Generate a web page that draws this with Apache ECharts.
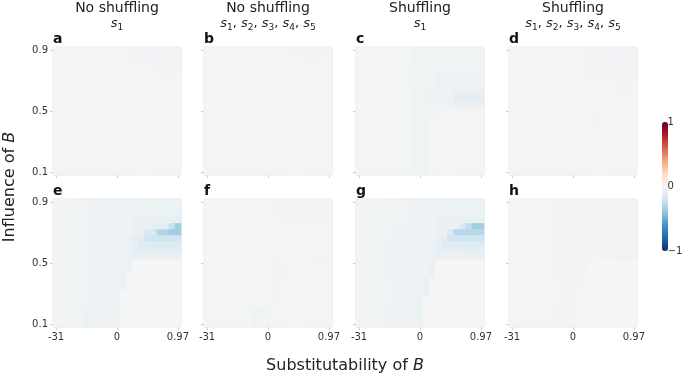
<!DOCTYPE html>
<html>
<head>
<meta http-equiv="Content-Type" content="text/html; charset=utf-8" />
<title>Influence vs substitutability of B</title>
<script src="https://cdn.jsdelivr.net/npm/echarts@6/dist/echarts.min.js"></script>
</head>
<body style="margin:0;padding:0;background:#ffffff;">
<div id="main" style="width:685px;height:375px;"></div>
<script type="text/javascript">
// tick labels (category index -> text)
var xTickPos = [0, 10, 20];
var xTickText = ['-31', '0', '0.97'];
var yTickPos = [0, 10, 20];
var yTickText = ['0.1', '0.5', '0.9'];
var colTitles = ['No shuffling', 'No shuffling', 'Shuffling', 'Shuffling'];
var panelLetters = ['a', 'b', 'c', 'd', 'e', 'f', 'g', 'h'];

// cell values in hundredths, rows top (0.9) -> bottom (0.1), columns left (-31) -> right (0.97)
var panelA = [
  [-1,-1,-1,-1,-1,-1,-1,-1,-1,-1,-1,-1,-2,-2,-2,-2,-2,-2,-2,-2,-2],
  [-1,-1,-1,-1,-1,-1,-1,-1,-1,-1,-1,-1,-2,-2,-2,-2,-2,-2,-2,-2,-2],
  [-1,-1,-1,-1,-1,-1,-1,-1,-1,-1,-1,-1,-2,-2,-2,-2,-2,-2,-2,-2,-2],
  [-1,-1,-1,-1,-1,-1,-1,-1,-1,-1,-1,-1,-1,-1,-1,-1,-2,-2,-2,-2,-2],
  [-1,-1,-1,-1,-1,-1,-1,-1,-1,-1,-1,-1,-1,-1,-1,-1,-1,-1,-2,-2,-1],
  [-1,-1,-1,-1,-1,-1,-1,-1,-1,-1,-1,-1,-1,-1,-1,-1,-1,-1,-2,-2,-1],
  [-1,-1,-1,-1,-1,-1,-1,-1,-1,-1,-1,-1,-1,-1,-1,-1,-1,-1,-1,-1,-1],
  [-1,-1,-1,-1,-1,-1,-1,-1,-1,-1,-1,-1,-1,-1,-1,-1,-1,-1,-1,-1,-1],
  [-1,-1,-1,-1,-1,-1,-1,-1,-1,-1,-1,-1,-1,-1,-1,-1,-1,-1,-1,-1,-1],
  [-1,-1,-1,-1,-1,-1,-1,-1,-1,-1,-1,-1,-1,-1,-1,-1,-1,-1,-1,-1,-1],
  [-1,-1,-1,-1,-1,-1,-1,-1,-1,-1,-1,-1,-1,-1,-1,-1,-1,-1,-1,-1,-1],
  [-1,-1,-1,-1,-1,-1,-1,-1,-1,-1,-1,-1,-1,-1,-1,-1,-1,-1,-1,-1,-1],
  [-1,-1,-1,-1,-1,-1,-1,-1,-1,-1,-1,-1,-1,-1,-1,-1,-1,-1,-1,-1,-1],
  [-1,-1,-1,-1,-1,-1,-1,-1,-1,-1,-1,-1,-1,-1,-1,-1,-1,-1,-1,-1,-1],
  [-1,-1,-1,-1,-1,-1,-1,-1,-1,-1,-1,-1,-1,-1,-1,-1,-1,-1,-1,-1,-1],
  [-1,-1,-1,-1,-1,-1,-1,-1,-1,-1,-1,-1,-1,-1,-1,-1,-1,-1,-1,-1,-1],
  [-1,-1,-1,-1,-1,-1,-1,-1,-1,-1,-1,-1,-1,-1,-1,-1,-1,-1,-1,-1,-1],
  [-1,-1,-1,-1,-1,-1,-1,-1,-1,-1,-1,-1,-1,-1,-1,-1,-1,-1,-1,-1,-1],
  [-1,-1,-1,-1,-1,-1,-1,-1,-1,-1,-1,-1,-1,-1,-1,-1,-1,-1,-1,-1,-1],
  [-1,-1,-1,-1,-1,-1,-1,-1,-1,-1,-1,-1,-1,-1,-1,-1,-1,-1,-1,-1,-1],
  [-1,-1,-1,-1,-1,-1,-1,-1,-1,-1,-1,-1,-1,-1,-1,-1,-1,-1,-1,-1,-1]
];
var panelB = [
  [-1,-1,-1,-1,-1,-1,-1,-1,-1,-1,-1,-1,-1,-1,-2,-2,-2,-2,-2,-2,-1],
  [-1,-1,-1,-1,-1,-1,-1,-1,-1,-1,-1,-1,-1,-1,-2,-2,-2,-2,-2,-2,-1],
  [-1,-1,-1,-1,-1,-1,-1,-1,-1,-1,-1,-1,-1,-1,-1,-1,-1,-1,-1,-1,-1],
  [-1,-1,-1,-1,-1,-1,-1,-1,-1,-1,-1,-1,-1,-1,-1,-1,-1,-1,-1,-1,-1],
  [-1,-1,-1,-1,-1,-1,-1,-1,-1,-1,-1,-1,-1,-1,-1,-1,-1,-1,-1,-1,-1],
  [-1,-1,-1,-1,-1,-1,-1,-1,-1,-1,-1,-1,-1,-1,-1,-1,-1,-1,-1,-1,-1],
  [-1,-1,-1,-1,-1,-1,-1,-1,-1,-1,-1,-1,-1,-1,-1,-1,-1,-1,-1,-1,-1],
  [-1,-1,-1,-1,-1,-1,-1,-1,-1,-1,-1,-1,-1,-1,-1,-1,-1,-1,-1,-1,-1],
  [-1,-1,-1,-1,-1,-1,-1,-1,-1,-1,-1,-1,-1,-1,-1,-1,-1,-1,-1,-1,-1],
  [-1,-1,-1,-1,-1,-1,-1,-1,-1,-1,-1,-1,-1,-1,-1,-1,-1,-1,-1,-1,-1],
  [-1,-1,-1,-1,-1,-1,-1,-1,-1,-1,-1,-1,-1,-1,-1,-1,-1,-1,-1,-1,-1],
  [-1,-1,-1,-1,-1,-1,-1,-1,-1,-1,-1,-1,-1,-1,-1,-1,-1,-1,-1,-1,-1],
  [-1,-1,-1,-1,-1,-1,-1,-1,-1,-1,-1,-1,-1,-1,-1,-1,-1,-1,-1,-1,-1],
  [-1,-1,-1,-1,-1,-1,-1,-1,-1,-1,-1,-1,-1,-1,-1,-1,-1,-1,-1,-1,-1],
  [-1,-1,-1,-1,-1,-1,-1,-1,-1,-1,-1,-1,-1,-1,-1,-1,-1,-1,-1,-1,-1],
  [-1,-1,-1,-1,-1,-1,-1,-1,-1,-1,-1,-1,-1,-1,-1,-1,-1,-1,-1,-1,-1],
  [-1,-1,-1,-1,-1,-1,-1,-1,-1,-1,-1,-1,-1,-1,-1,-1,-1,-1,-1,-1,-1],
  [-1,-1,-1,-1,-1,-1,-1,-1,-1,-1,-1,-1,-1,-1,-1,-1,-1,-1,-1,-1,-1],
  [-1,-1,-1,-1,-1,-1,-1,-1,-1,-1,-1,-1,-1,-1,-1,-1,-1,-1,-1,-1,-1],
  [-1,-1,-1,-1,-1,-1,-1,-1,-1,-1,-1,-1,-1,-1,-1,-1,-1,-1,-1,-1,-1],
  [-1,-1,-1,-1,-1,-1,-1,-1,-1,-1,-1,-1,-1,-1,-1,-1,-1,-1,-1,-1,-1]
];
var panelC = [
  [-1,-1,-1,-1,-1,-1,-1,-1,-1,-3,-3,-3,-3,-3,-3,-3,-3,-3,-3,-3,-3],
  [-1,-1,-1,-1,-1,-1,-1,-1,-1,-3,-3,-3,-3,-3,-3,-3,-3,-3,-3,-3,-3],
  [-1,-1,-1,-1,-1,-1,-1,-1,-1,-3,-3,-3,-3,-3,-3,-3,-3,-3,-3,-3,-3],
  [-1,-1,-1,-1,-1,-1,-1,-1,-1,-3,-3,-3,-3,-3,-3,-3,-3,-3,-3,-3,-3],
  [-1,-1,-1,-1,-1,-1,-1,-1,-1,-3,-3,-3,-3,-5,-4,-4,-4,-4,-4,-4,-4],
  [-1,-1,-1,-1,-1,-1,-1,-1,-1,-3,-3,-3,-3,-5,-4,-4,-4,-4,-4,-4,-4],
  [-1,-1,-1,-1,-1,-1,-1,-1,-1,-3,-3,-3,-3,-5,-4,-4,-4,-4,-4,-4,-4],
  [-1,-1,-1,-1,-1,-1,-1,-1,-1,-3,-3,-3,-5,-5,-5,-5,-7,-7,-7,-7,-7],
  [-1,-1,-1,-1,-1,-1,-1,-1,-1,-3,-3,-3,-5,-5,-5,-5,-10,-10,-10,-10,-10],
  [-1,-1,-1,-1,-1,-1,-1,-1,-1,-3,-3,-3,-4,-4,-4,-4,-6,-6,-6,-6,-6],
  [-1,-1,-1,-1,-1,-1,-1,-1,-1,-3,-3,-3,-3,-3,-3,-2,-2,-2,-2,-2,-2],
  [-1,-1,-1,-1,-1,-1,-1,-1,-1,-3,-3,-3,-1,-1,-1,-1,-1,-1,-1,-1,-1],
  [-1,-1,-1,-1,-1,-1,-1,-1,-1,-3,-3,-3,-1,-1,-1,-1,-1,-1,-1,-1,-1],
  [-1,-1,-1,-1,-1,-1,-1,-1,-1,-3,-3,-3,-1,-1,-1,-1,-1,-1,-1,-1,-1],
  [-1,-1,-1,-1,-1,-1,-1,-1,-1,-3,-3,-3,-1,-1,-1,-1,-1,-1,-1,-1,-1],
  [-1,-1,-1,-1,-1,-1,-1,-1,-1,-3,-3,-3,-1,-1,-1,-1,-1,-1,-1,-1,-1],
  [-1,-1,-1,-1,-1,-1,-1,-1,-1,-3,-3,-3,-1,-1,-1,-1,-1,-1,-1,-1,-1],
  [-1,-1,-1,-1,-1,-1,-1,-1,-1,-3,-3,-3,-1,-1,-1,-1,-1,-1,-1,-1,-1],
  [-1,-1,-1,-1,-1,-1,-1,-1,-1,-3,-3,-3,-1,-1,-1,-1,-1,-1,-1,-1,-1],
  [-1,-1,-1,-1,-1,-1,-1,-1,-1,-3,-3,-3,-1,-1,-1,-1,-1,-1,-1,-1,-1],
  [-1,-1,-1,-1,-1,-1,-1,-1,-1,-3,-3,-3,-1,-1,-1,-1,-1,-1,-1,-1,-1]
];
var panelD = [
  [-1,-1,-1,-1,-1,-1,-1,-1,-1,-1,-1,-1,-2,-2,-2,-2,-2,-2,-2,-2,-2],
  [-1,-1,-1,-1,-1,-1,-1,-1,-1,-1,-1,-1,-2,-2,-2,-2,-2,-2,-2,-2,-2],
  [-1,-1,-1,-1,-1,-1,-1,-1,-1,-1,-1,-1,-2,-2,-2,-2,-2,-2,-2,-2,-2],
  [-1,-1,-1,-1,-1,-1,-1,-1,-1,-1,-1,-1,-2,-2,-2,-2,-2,-2,-2,-2,-2],
  [-1,-1,-1,-1,-1,-1,-1,-1,-1,-1,-1,-1,-2,-2,-2,-2,-2,-2,-2,-2,-2],
  [-1,-1,-1,-1,-1,-1,-1,-1,-1,-1,-1,-1,-1,-1,-1,-1,-1,-1,-1,-1,-1],
  [-1,-1,-1,-1,-1,-1,-1,-1,-1,-1,-1,-1,-1,-1,-1,-1,-1,-1,-2,-2,-1],
  [-1,-1,-1,-1,-1,-1,-1,-1,-1,-1,-1,-1,-1,-1,-1,-1,-1,-1,-2,-2,-1],
  [-1,-1,-1,-1,-1,-1,-1,-1,-1,-1,-1,-1,-1,-1,-1,-1,-1,-1,-1,-1,-1],
  [-1,-1,-1,-1,-1,-1,-1,-1,-1,-1,-1,-1,-1,-1,-1,-1,-1,-1,-1,-1,-1],
  [-1,-1,-1,-1,-1,-1,-1,-1,-1,-1,-1,-1,-1,-1,-2,-1,-1,-1,-1,-1,-1],
  [-1,-1,-1,-1,-1,-1,-1,-1,-1,-1,-1,-1,-1,-1,-2,-1,-1,-1,-1,-1,-1],
  [-1,-1,-1,-1,-1,-1,-1,-1,-1,-1,-1,-1,-1,-1,-2,-1,-1,-1,-1,-1,-1],
  [-1,-1,-1,-1,-1,-1,-1,-1,-1,-1,-1,-1,-1,-1,-1,-1,-1,-1,-1,-1,-1],
  [-1,-1,-1,-1,-1,-1,-1,-1,-1,-1,-1,-1,-1,-1,-1,-1,-1,-1,-1,-1,-1],
  [-1,-1,-1,-1,-1,-1,-1,-1,-1,-1,-1,-1,-1,-1,-1,-1,-1,-1,-1,-1,-1],
  [-1,-1,-1,-1,-1,-1,-1,-1,-1,-1,-1,-1,-1,-1,-1,-1,-1,-1,-1,-1,-1],
  [-1,-1,-1,-1,-1,-1,-1,-1,-1,-1,-1,-1,-1,-1,-1,-1,-1,-1,-1,-1,-1],
  [-1,-1,-1,-1,-1,-1,-1,-1,-1,-1,-1,-1,-1,-1,-1,-1,-1,-1,-1,-1,-1],
  [-1,-1,-1,-1,-1,-1,-1,-1,-1,-1,-1,-1,-1,-1,-1,-1,-1,-1,-1,-1,-1],
  [-1,-1,-1,-1,-1,-1,-1,-1,-1,-1,-1,-1,-1,-1,-1,-1,-1,-1,-1,-1,-1]
];
var panelE = [
  [-2,-2,-2,-3,-3,-4,-4,-4,-4,-4,-4,-4,-4,-5,-5,-5,-5,-5,-5,-5,-5],
  [-2,-2,-2,-3,-3,-4,-4,-4,-4,-4,-4,-4,-4,-5,-5,-5,-5,-5,-5,-5,-5],
  [-2,-2,-2,-3,-3,-4,-4,-4,-4,-4,-4,-4,-4,-6,-6,-6,-6,-6,-6,-6,-6],
  [-2,-2,-2,-3,-3,-4,-4,-4,-4,-4,-4,-4,-4,-6,-6,-6,-7,-7,-7,-7,-7],
  [-2,-2,-2,-3,-3,-4,-4,-4,-4,-4,-4,-4,-4,-6,-6,-6,-9,-9,-9,-22,-35],
  [-2,-2,-2,-3,-3,-4,-4,-4,-4,-4,-4,-4,-4,-6,-6,-15,-15,-30,-30,-35,-35],
  [-2,-2,-2,-3,-3,-4,-4,-4,-4,-4,-4,-4,-4,-10,-10,-20,-20,-20,-20,-20,-20],
  [-2,-2,-2,-3,-3,-4,-4,-4,-4,-4,-4,-4,-4,-8,-14,-14,-14,-14,-14,-14,-14],
  [-2,-2,-2,-3,-3,-4,-4,-4,-4,-4,-4,-4,-6,-10,-10,-10,-10,-10,-10,-10,-10],
  [-2,-2,-2,-3,-3,-4,-4,-4,-4,-4,-4,-5,-6,-6,-6,-6,-6,-6,-6,-6,-6],
  [-2,-2,-2,-3,-3,-4,-4,-4,-4,-4,-4,-4,-6,0,0,0,0,0,0,0,0],
  [-2,-2,-2,-3,-3,-4,-4,-4,-4,-4,-4,-4,-6,0,0,0,0,0,0,0,0],
  [-2,-2,-2,-3,-3,-4,-4,-4,-4,-4,-4,-6,0,0,0,0,0,0,0,0,0],
  [-2,-2,-2,-3,-3,-4,-4,-4,-4,-4,-4,-6,0,0,0,0,0,0,0,0,0],
  [-2,-2,-2,-3,-3,-4,-4,-4,-4,-4,-4,-5,0,0,0,0,0,0,0,0,0],
  [-2,-2,-2,-3,-3,-4,-4,-4,-4,-4,-6,0,0,0,0,0,0,0,0,0,0],
  [-2,-2,-2,-3,-3,-4,-4,-4,-4,-4,-6,0,0,0,0,0,0,0,0,0,0],
  [-2,-2,-2,-3,-3,-4,-4,-4,-4,-4,-6,0,0,0,0,0,0,0,0,0,0],
  [-2,-2,-2,-3,-3,-5,-5,-4,-4,-4,-5,0,0,0,0,0,0,0,0,0,0],
  [-2,-2,-2,-3,-3,-5,-5,-4,-4,-4,-5,0,0,0,0,0,0,0,0,0,0],
  [-2,-2,-2,-3,-3,-5,-5,-4,-4,-4,-5,0,0,0,0,0,0,0,0,0,0]
];
var panelF = [
  [-1,-1,-1,-1,-1,-1,-1,-1,-1,-1,-1,-1,-2,-2,-2,-2,-2,-2,-2,-2,-2],
  [-1,-1,-1,-1,-1,-1,-1,-1,-1,-1,-1,-1,-2,-2,-2,-2,-2,-2,-2,-2,-2],
  [-1,-1,-1,-1,-1,-1,-1,-1,-1,-1,-1,-1,-2,-2,-2,-2,-2,-2,-2,-2,-2],
  [-1,-1,-1,-1,-1,-1,-1,-1,-1,-1,-1,-1,-2,-2,-2,-2,-2,-2,-2,-2,-2],
  [-1,-1,-1,-1,-1,-1,-1,-1,-1,-1,-1,-1,-1,-1,-1,-1,-1,-1,-1,-1,-1],
  [-1,-1,-1,-1,-1,-1,-1,-1,-1,-1,-1,-1,-1,-1,-1,-1,-1,-1,-1,-1,-1],
  [-1,-1,-1,-1,-1,-1,-1,-1,-1,-1,-1,-1,-1,-1,-1,-1,-1,-1,-1,-1,-1],
  [-1,-1,-1,-1,-1,-1,-1,-1,-1,-1,-1,-1,-1,-1,-1,-1,-1,-1,-1,-1,-1],
  [-1,-1,-1,-1,-1,-1,-1,-1,-1,-1,-1,-1,-1,-1,-1,-1,-1,-1,-1,-1,-1],
  [-1,-1,-1,-1,-1,-1,-1,-1,-1,-1,-1,-1,-1,-1,-1,-1,-1,-1,-1,-1,-1],
  [-1,-1,-1,-1,-1,-1,-1,-1,-1,-1,-1,-2,-2,-1,-1,-1,-1,-1,-2,-2,-1],
  [-1,-1,-1,-1,-1,-1,-1,-1,-1,-1,-1,-2,-2,-1,-1,-1,-1,-1,-1,-1,-1],
  [-1,-1,-1,-1,-1,-1,-1,-1,-1,-1,-1,-2,-2,-1,-1,-1,-1,-1,-1,-1,-1],
  [-1,-1,-1,-1,-1,-1,-1,-1,-1,-1,-1,-2,-2,-1,-1,-1,-1,-1,-1,-1,-1],
  [-1,-1,-1,-1,-1,-1,-1,-1,-1,-1,-1,-2,-2,-1,-1,-1,-1,-1,-1,-1,-1],
  [-1,-1,-1,-1,-1,-1,-1,-1,-1,-1,-1,-2,-2,-1,-1,-1,-1,-1,-1,-1,-1],
  [-1,-1,-1,-1,-1,-1,-1,-1,-1,-1,-1,-2,-2,-1,-1,-1,-1,-1,-1,-1,-1],
  [-1,-1,-1,-1,-1,-1,-1,-1,-1,-1,-1,-1,-1,-1,-1,-1,-1,-1,-1,-1,-1],
  [-1,-1,-1,-1,-1,-1,-1,-1,-3,-3,-3,-1,-1,-1,-1,-1,-1,-1,-1,-1,-1],
  [-1,-1,-1,-1,-1,-1,-1,-1,-3,-3,-3,-1,-1,-1,-1,-1,-1,-1,-1,-1,-1],
  [-1,-1,-1,-1,-1,-1,-1,-1,-3,-3,-3,-1,-1,-1,-1,-1,-1,-1,-1,-1,-1]
];
var panelG = [
  [-2,-2,-2,-2,-3,-3,-3,-3,-4,-4,-4,-4,-4,-5,-5,-5,-5,-5,-5,-5,-5],
  [-2,-2,-2,-2,-3,-3,-3,-3,-4,-4,-4,-4,-4,-5,-5,-5,-5,-5,-5,-5,-5],
  [-2,-2,-2,-2,-3,-3,-3,-3,-4,-4,-4,-4,-4,-6,-6,-6,-6,-6,-6,-6,-6],
  [-2,-2,-2,-2,-3,-3,-3,-3,-4,-4,-4,-4,-4,-6,-6,-6,-7,-7,-7,-7,-7],
  [-2,-2,-2,-2,-3,-4,-4,-4,-4,-4,-4,-4,-4,-6,-6,-6,-6,-15,-25,-35,-35],
  [-2,-2,-2,-2,-3,-4,-4,-4,-4,-4,-4,-4,-4,-6,-6,-15,-28,-28,-28,-28,-28],
  [-2,-2,-2,-2,-3,-4,-4,-4,-4,-4,-4,-4,-4,-6,-10,-20,-20,-20,-20,-20,-20],
  [-2,-2,-2,-2,-3,-4,-4,-4,-4,-4,-4,-4,-4,-8,-13,-13,-13,-13,-13,-13,-13],
  [-2,-2,-2,-2,-3,-4,-4,-4,-4,-4,-4,-4,-6,-9,-9,-9,-9,-9,-9,-9,-9],
  [-2,-2,-2,-2,-3,-4,-4,-4,-4,-4,-4,-5,-6,-6,-6,-6,-6,-6,-6,-6,-6],
  [-2,-2,-2,-2,-3,-4,-4,-4,-4,-4,-4,-4,-6,0,0,0,0,0,0,0,0],
  [-2,-2,-2,-2,-3,-4,-4,-4,-4,-4,-4,-4,-6,0,0,0,0,0,0,0,0],
  [-2,-2,-2,-2,-3,-4,-4,-4,-4,-4,-4,-4,-6,0,0,0,0,0,0,0,0],
  [-2,-2,-2,-2,-3,-4,-4,-4,-4,-4,-4,-6,0,0,0,0,0,0,0,0,0],
  [-2,-2,-2,-2,-3,-4,-4,-4,-4,-4,-4,-6,0,0,0,0,0,0,0,0,0],
  [-2,-2,-2,-2,-3,-4,-4,-4,-4,-4,-4,-6,0,0,0,0,0,0,0,0,0],
  [-2,-2,-2,-2,-3,-4,-4,-4,-4,-4,-6,0,0,0,0,0,0,0,0,0,0],
  [-2,-2,-2,-2,-3,-4,-4,-4,-4,-4,-6,0,0,0,0,0,0,0,0,0,0],
  [-2,-2,-4,-2,-3,-4,-4,-4,-4,-4,-6,0,0,0,0,0,0,0,0,0,0],
  [-2,-2,-2,-2,-3,-4,-4,-4,-4,-4,-6,0,0,0,0,0,0,0,0,0,0],
  [-2,-2,-2,-2,-3,-4,-4,-4,-4,-4,-6,0,0,0,0,0,0,0,0,0,0]
];
var panelH = [
  [-1,-1,-1,-1,-1,-1,-1,-1,-2,-2,-2,-2,-2,-2,-2,-2,-2,-2,-2,-2,-2],
  [-1,-1,-1,-1,-1,-1,-1,-1,-2,-2,-2,-2,-2,-2,-2,-2,-2,-2,-2,-2,-2],
  [-1,-1,-1,-1,-1,-1,-1,-1,-2,-2,-2,-2,-2,-2,-2,-2,-2,-2,-2,-2,-2],
  [-1,-1,-1,-1,-1,-1,-1,-1,-2,-2,-2,-2,-2,-2,-2,-2,-2,-2,-2,-2,-2],
  [-1,-1,-1,-1,-1,-1,-1,-1,-2,-2,-2,-2,-2,-2,-2,-2,-2,-2,-2,-2,-2],
  [-1,-1,-1,-1,-1,-1,-1,-1,-2,-2,-2,-2,-2,-2,-2,-2,-2,-2,-2,-2,-2],
  [-1,-1,-1,-1,-1,-1,-1,-1,-2,-2,-2,-2,-2,-2,-2,-2,-2,-2,-2,-2,-2],
  [-1,-1,-1,-1,-1,-1,-1,-1,-2,-2,-2,-2,-2,-2,-2,-2,-2,-2,-2,-2,-2],
  [-1,-1,-1,-1,-1,-1,-1,-1,-2,-2,-2,-2,-2,-2,-2,-2,-2,-2,-2,-2,-2],
  [-1,-1,-1,-1,-1,-1,-1,-1,-2,-2,-2,-2,-2,-2,-2,-2,-2,-3,-3,-3,-3],
  [-1,-1,-1,-1,-1,-1,-1,-1,-2,-2,-2,-2,-2,0,0,0,0,0,0,0,0],
  [-1,-1,-1,-1,-1,-1,-1,-1,-2,-2,-2,-2,-2,0,0,0,0,0,0,0,0],
  [-1,-1,-1,-1,-1,-1,-1,-1,-2,-2,-2,-2,0,0,0,0,0,0,0,0,0],
  [-1,-1,-1,-1,-1,-1,-1,-1,-2,-2,-2,-2,0,0,0,0,0,0,0,0,0],
  [-1,-1,-1,-1,-1,-1,-1,-1,-2,-2,-2,-2,0,0,0,0,0,0,0,0,0],
  [-1,-1,-1,-1,-1,-1,-1,-1,-2,-2,-2,0,0,0,0,0,0,0,0,0,0],
  [-1,-1,-1,-1,-1,-1,-1,-1,-2,-2,-2,0,0,0,0,0,0,0,0,0,0],
  [-1,-1,-1,-1,-1,-1,-1,-1,-2,-2,-2,0,0,0,0,0,0,0,0,0,0],
  [-1,-1,-1,-1,-1,-1,-1,-1,-2,-2,-2,0,0,0,0,0,0,0,0,0,0],
  [-1,-1,-1,-1,-1,-1,-1,-1,-2,-2,-2,0,0,0,0,0,0,0,0,0,0],
  [-1,-1,-1,-1,-1,-1,-1,-1,-2,-2,-2,0,0,0,0,0,0,0,0,0,0]
];

/*************************************************************
* layout
*************************************************************/
var FONT = 'DejaVu Sans';
var panels = [panelA, panelB, panelC, panelD, panelE, panelF, panelG, panelH];
var gridLeft = [53, 204, 356, 509];
var gridTop = [47, 199];
var cellCount = 21;
var catIdx = [];
for (var k = 0; k < cellCount; k++) catIdx.push(String(k));

var grids = [], xAxes = [], yAxes = [], series = [];
panels.forEach(function (rows, p) {
    var col = p % 4, row = Math.floor(p / 4);
    grids.push({
        left: gridLeft[col], top: gridTop[row], width: 128, height: 128,
        show: true, borderColor: '#e2e2e2', borderWidth: 1, backgroundColor: 'transparent'
    });
    xAxes.push({
        type: 'category', gridIndex: p, data: catIdx,
        axisLine: { show: false },
        axisTick: {
            show: true, alignWithLabel: true, length: 3,
            interval: function (i) { return xTickPos.indexOf(i) >= 0; },
            lineStyle: { color: '#cfcfcf' }
        },
        axisLabel: {
            show: row === 1, margin: 5, fontSize: 10, color: '#333', fontFamily: FONT,
            interval: function (i) { return xTickPos.indexOf(i) >= 0; },
            formatter: function (v, i) { var j = xTickPos.indexOf(i); return j >= 0 ? xTickText[j] : ''; }
        },
        splitLine: { show: false }
    });
    yAxes.push({
        type: 'category', gridIndex: p, data: catIdx,
        axisLine: { show: false },
        axisTick: {
            show: true, alignWithLabel: true, length: 3,
            interval: function (i) { return yTickPos.indexOf(i) >= 0; },
            lineStyle: { color: '#cfcfcf' }
        },
        axisLabel: {
            show: col === 0, margin: 5, fontSize: 10, color: '#333', fontFamily: FONT,
            interval: function (i) { return yTickPos.indexOf(i) >= 0; },
            formatter: function (v, i) { var j = yTickPos.indexOf(i); return j >= 0 ? yTickText[j] : ''; }
        },
        splitLine: { show: false }
    });
    var data = [];
    rows.forEach(function (vals, r) {
        vals.forEach(function (v, c) {
            data.push([c, cellCount - 1 - r, v / 100]);   // hundredths -> value
        });
    });
    series.push({
        type: 'heatmap', xAxisIndex: p, yAxisIndex: p, data: data,
        itemStyle: { borderWidth: 0 },
        emphasis: { disabled: true },
        progressive: 0
    });
});

// colour bar axis (-1 .. 1)
grids.push({ left: 662, top: 122, width: 6, height: 129, show: false });
xAxes.push({ type: 'value', gridIndex: 8, show: false, min: 0, max: 1 });
yAxes.push({
    type: 'value', gridIndex: 8, position: 'right', min: -1, max: 1, interval: 1,
    axisLine: { show: false }, axisTick: { show: false }, splitLine: { show: false },
    axisLabel: {
        margin: 4, fontSize: 10, color: '#333', fontFamily: FONT,
        formatter: function (v) { return String(v).replace('-', '\u2212'); }
    }
});

/*************************************************************
* texts
*************************************************************/
var richSub = {
    it: { fontStyle: 'italic', fontSize: 13, fontFamily: FONT, fill: '#222', lineHeight: 16, verticalAlign: 'middle' },
    sub: { fontSize: 9, fontFamily: FONT, fill: '#222', lineHeight: 9, verticalAlign: 'bottom' },
    n: { fontSize: 13, fontFamily: FONT, fill: '#222', lineHeight: 16 }
};
var subOne = '{it|s}{sub|1}';
var subAll = '{it|s}{sub|1}{n|, }{it|s}{sub|2}{n|, }{it|s}{sub|3}{n|, }{it|s}{sub|4}{n|, }{it|s}{sub|5}';
var graphics = [];
for (var c = 0; c < 4; c++) {
    var cx = gridLeft[c] + 64;
    graphics.push({
        type: 'text', x: cx, y: 8,
        style: { text: colTitles[c], fontSize: 14, fontFamily: FONT, fill: '#222', align: 'center', verticalAlign: 'middle' }
    });
    graphics.push({
        type: 'text', x: cx, y: 24,
        style: { text: (c % 2 === 0) ? subOne : subAll, rich: richSub, fontSize: 13, fontFamily: FONT, fill: '#222', align: 'center', verticalAlign: 'middle' }
    });
}
panelLetters.forEach(function (t, p) {
    graphics.push({
        type: 'text', x: gridLeft[p % 4], y: p < 4 ? 39 : 191,
        style: { text: t, fontSize: 14, fontWeight: 'bold', fontFamily: FONT, fill: '#111', align: 'left', verticalAlign: 'middle' }
    });
});
var richAxis = {
    n: { fontSize: 16, fontFamily: FONT, fill: '#222' },
    it: { fontSize: 16, fontFamily: FONT, fill: '#222', fontStyle: 'italic' }
};
graphics.push({
    type: 'text', x: 345, y: 366,
    style: { text: '{n|Substitutability of }{it|B}', rich: richAxis, align: 'center', verticalAlign: 'middle' }
});
graphics.push({
    type: 'text', x: 10, y: 187, rotation: Math.PI / 2,
    style: { text: '{n|Influence of }{it|B}', rich: richAxis, align: 'center', verticalAlign: 'middle' }
});

var chart = echarts.init(document.getElementById('main'));
chart.setOption({
    animation: false,
    backgroundColor: '#ffffff',
    grid: grids,
    xAxis: xAxes,
    yAxis: yAxes,
    visualMap: {
        type: 'continuous', min: -1, max: 1, calculable: false, seriesIndex: [0, 1, 2, 3, 4, 5, 6, 7],
        orient: 'vertical', left: 662, top: 122, itemWidth: 6, itemHeight: 129, padding: 0,
        text: null, showLabel: false, hoverLink: false,
        inRange: { color: ['#053061', '#2166ac', '#4393c3', '#92c5de', '#d1e5f0', '#f5f5f5', '#fddbc7', '#f4a582', '#d6604d', '#b2182b', '#67001f'] }
    },
    graphic: graphics,
    series: series
});
</script>
</body>
</html>
